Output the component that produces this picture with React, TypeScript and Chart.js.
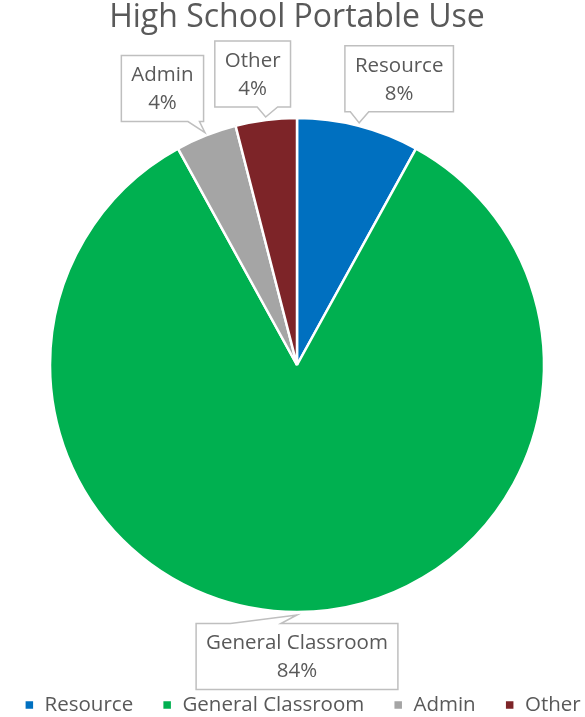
import React, { useEffect, useRef } from "react";
import { Chart, registerables } from "chart.js";

Chart.register(...registerables);

// ---- data ----
const chartTitle = "High School Portable Use";
const categories = ["Resource", "General Classroom", "Admin", "Other"];
const shareValues = [8, 84, 4, 4];
const sliceColors = ["#0070C0", "#00B050", "#A5A5A5", "#7D2428"];

// ---- styling / layout of the callout labels (not data) ----
const FONT = '"Open Sans", "DejaVu Sans", sans-serif';
const TEXT_COLOR = "#595959";
const LABEL_SIZE = 20.5;
const BOX_PAD_X = 10;
const BOX_H = 66;
const LINE_GAP = 28;
const calloutPlacement = [
  { dx: 40, dy: -44, edge: "bottom", b0: 0.05, b1: 0.22 },
  { dx: 0, dy: 41.5, edge: "top", b0: 0.17, b1: 0.42 },
  { dx: -42.5, dy: -44, edge: "bottom", b0: 0.81, b1: 0.95 },
  { dx: -13, dy: -43, edge: "bottom", b0: 0.56, b1: 0.83 },
];

// lets the single legend row use a little more width than the default wrap rule allows
const legendRowPlugin = {
  id: "legendRow",
  beforeLayout(chart: any) {
    const lg = chart.legend;
    if (lg && !lg.__rowPatched && typeof lg._fitRows === "function") {
      const origFit = lg._fitRows;
      lg._fitRows = function (...args: any[]) {
        const mw = this.maxWidth;
        this.maxWidth = mw + 80;
        const r = origFit.apply(this, args);
        this.maxWidth = mw;
        return r;
      };
      const origDraw = lg._draw;
      if (typeof origDraw === "function") {
        lg._draw = function (...args: any[]) {
          const l = this.left;
          const rt = this.right;
          this.left = l - 40;
          this.right = rt + 40;
          const r = origDraw.apply(this, args);
          this.left = l;
          this.right = rt;
          return r;
        };
      }
      lg.__rowPatched = true;
    }
  },
};

const calloutPlugin = {
  id: "callouts",
  afterDatasetsDraw(chart: any) {
    const ctx = chart.ctx as CanvasRenderingContext2D;
    const meta = chart.getDatasetMeta(0);
    const values = chart.data.datasets[0].data as number[];
    const total = values.reduce((a, b) => a + b, 0);
    ctx.save();
    ctx.font = `${LABEL_SIZE}px ${FONT}`;
    meta.data.forEach((arc: any, i: number) => {
      const { x, y, startAngle, endAngle, outerRadius } = arc.getProps(
        ["x", "y", "startAngle", "endAngle", "outerRadius"],
        true
      );
      const mid = (startAngle + endAngle) / 2;
      const tipX = x + Math.cos(mid) * (outerRadius + 3);
      const tipY = y + Math.sin(mid) * (outerRadius + 3);
      const p = calloutPlacement[i];
      const lines = [chart.data.labels[i] as string, Math.round((values[i] / total) * 100) + "%"];
      const w = Math.max(...lines.map((l) => ctx.measureText(l).width)) + BOX_PAD_X * 2;
      const cx = tipX + p.dx;
      const cy = tipY + p.dy;
      const left = cx - w / 2;
      const right = cx + w / 2;
      const top = cy - BOX_H / 2;
      const bottom = cy + BOX_H / 2;
      const b0 = left + w * p.b0;
      const b1 = left + w * p.b1;
      ctx.beginPath();
      if (p.edge === "bottom") {
        ctx.moveTo(left, top);
        ctx.lineTo(right, top);
        ctx.lineTo(right, bottom);
        ctx.lineTo(b1, bottom);
        ctx.lineTo(tipX, tipY);
        ctx.lineTo(b0, bottom);
        ctx.lineTo(left, bottom);
      } else {
        ctx.moveTo(left, bottom);
        ctx.lineTo(left, top);
        ctx.lineTo(b0, top);
        ctx.lineTo(tipX, tipY);
        ctx.lineTo(b1, top);
        ctx.lineTo(right, top);
        ctx.lineTo(right, bottom);
      }
      ctx.closePath();
      ctx.fillStyle = "#FFFFFF";
      ctx.fill();
      ctx.lineWidth = 1.5;
      ctx.strokeStyle = "#BFBFBF";
      ctx.stroke();
      ctx.fillStyle = TEXT_COLOR;
      ctx.textAlign = "center";
      ctx.textBaseline = "middle";
      ctx.fillText(lines[0], cx, cy - LINE_GAP / 2 + 1);
      ctx.fillText(lines[1], cx, cy + LINE_GAP / 2 + 1);
    });
    ctx.restore();
  },
};

export default function App() {
  const canvasRef = useRef<HTMLCanvasElement | null>(null);

  useEffect(() => {
    if (!canvasRef.current) return;
    const chart = new Chart(canvasRef.current, {
      type: "pie",
      data: {
        labels: categories,
        datasets: [
          {
            data: shareValues,
            backgroundColor: sliceColors,
            borderColor: "#FFFFFF",
            borderWidth: 2.5,
            radius: 247,
          },
        ],
      },
      options: {
        responsive: false,
        animation: false,
        layout: { padding: { left: 9, right: -11, top: 0, bottom: -8.25 } },
        plugins: {
          title: {
            display: true,
            fullSize: false,
            text: chartTitle,
            color: TEXT_COLOR,
            font: { family: FONT, size: 32, weight: "normal" },
            padding: { top: -1, bottom: 26.85 },
          },
          legend: {
            display: true,
            position: "bottom",
            labels: {
              color: TEXT_COLOR,
              font: { family: FONT, size: LABEL_SIZE },
              boxWidth: 10,
              boxHeight: 10,
              padding: 29,
            },
          },
          tooltip: { enabled: false },
        },
      },
      plugins: [legendRowPlugin, calloutPlugin],
    });
    return () => chart.destroy();
  }, []);

  return (
    <div style={{ position: "absolute", left: 0, top: 0, width: 585, height: 717, background: "#FFFFFF" }}>
      <canvas ref={canvasRef} width={585} height={717} />
    </div>
  );
}
